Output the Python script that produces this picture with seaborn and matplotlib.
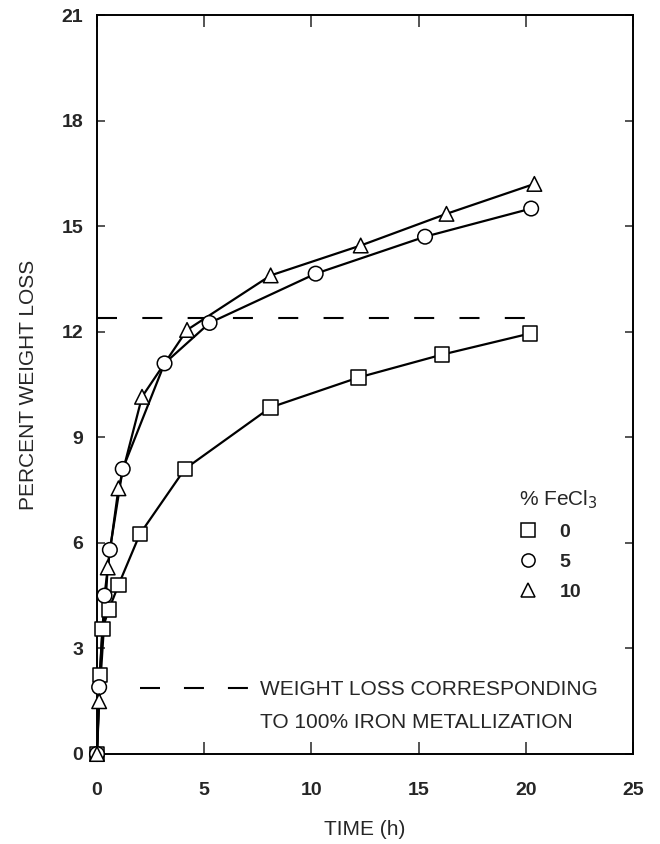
import numpy as np
import pandas as pd
import matplotlib
matplotlib.use("Agg")
import matplotlib.pyplot as plt
import seaborn as sns
from matplotlib.lines import Line2D

# --- data ---
fecl3_levels = ["0", "5", "10"]
time_0 = [0, 0.13, 0.25, 0.55, 1.0, 2.0, 4.1, 8.1, 12.2, 16.1, 20.2]
loss_0 = [0, 2.25, 3.55, 4.1, 4.8, 6.25, 8.1, 9.85, 10.7, 11.35, 11.95]
time_5 = [0, 0.1, 0.35, 0.6, 1.2, 3.15, 5.25, 10.2, 15.3, 20.25]
loss_5 = [0, 1.9, 4.5, 5.8, 8.1, 11.1, 12.25, 13.65, 14.7, 15.5]
time_10 = [0, 0.1, 0.5, 1.0, 2.1, 4.2, 8.1, 12.3, 16.3, 20.4]
loss_10 = [0, 1.5, 5.3, 7.55, 10.15, 12.05, 13.6, 14.45, 15.35, 16.2]

metal_loss = 12.4          # 100% iron metallization
metal_span = [0, 20]

x_ticks = [0, 5, 10, 15, 20, 25]
y_ticks = [0, 3, 6, 9, 12, 15, 18, 21]

df = pd.concat([
    pd.DataFrame({"time": time_0, "loss": loss_0, "fecl3": "0"}),
    pd.DataFrame({"time": time_5, "loss": loss_5, "fecl3": "5"}),
    pd.DataFrame({"time": time_10, "loss": loss_10, "fecl3": "10"}),
], ignore_index=True)

sns.set_theme(style="ticks")
plt.rcParams["font.family"] = ["Liberation Sans", "DejaVu Sans"]
plt.rcParams["lines.scale_dashes"] = True

fig = plt.figure(figsize=(6.6, 8.44), dpi=100)
ax = fig.add_axes([97 / 660, 1 - 754 / 844, 536 / 660, 739 / 844])

marker_map = {"0": "s", "5": "o", "10": "^"}
dash_style = (0, (9.6, 12.15))

sns.lineplot(data=df, x="time", y="loss", hue="fecl3", hue_order=fecl3_levels,
             palette=["black"] * 3, estimator=None, sort=False, lw=1.6,
             legend=False, ax=ax)
sns.scatterplot(data=df, x="time", y="loss", style="fecl3", style_order=fecl3_levels,
                markers=marker_map, color="white", edgecolor="black", linewidth=1.1,
                s=110, legend=False, ax=ax, zorder=3, clip_on=False)

ax.hlines(metal_loss, metal_span[0], metal_span[1], colors="black", lw=1.5,
          linestyles=dash_style)

ax.set_xlim(0, 25)
ax.set_ylim(0, 21)
ax.set_xticks(x_ticks)
ax.set_yticks(y_ticks)
ax.tick_params(axis="x", direction="in", top=True, length=8.6, width=1.1,
               pad=20, labelsize=14)
ax.tick_params(axis="y", direction="in", right=True, length=5.8, width=1.1,
               pad=10, labelsize=14)
for lab in ax.get_xticklabels() + ax.get_yticklabels():
    lab.set_fontweight("bold")
for sp in ax.spines.values():
    sp.set_linewidth(1.4)
    sp.set_color("black")

ax.set_xlabel("TIME (h)", fontsize=15, labelpad=15)
ax.set_ylabel("PERCENT WEIGHT LOSS", fontsize=15, labelpad=17)

# legend for the FeCl3 series
handles = [Line2D([], [], ls="none", marker=marker_map[k], ms=9.5, mfc="white",
                  mec="black", mew=1.1) for k in fecl3_levels]
leg = ax.legend(handles, fecl3_levels, title="% FeCl$_3$", loc="center",
                bbox_to_anchor=(0.860, 0.283), frameon=False, fontsize=14,
                title_fontsize=15, handlelength=1.0, handletextpad=1.1,
                labelspacing=0.63, borderpad=0)
leg._legend_box.align = "left"
for t in leg.get_texts():
    t.set_fontweight("bold")
ax.add_artist(leg)

# key for the dashed reference line
ref_handles = [Line2D([], [], color="black", lw=1.5, ls=(0, (9.6, 11.5))),
               Line2D([], [], ls="none")]
ax.legend(ref_handles, ["WEIGHT LOSS CORRESPONDING", "TO 100% IRON METALLIZATION"],
          loc="center left", bbox_to_anchor=(0.080, 0.065), frameon=False,
          fontsize=15, handlelength=5.3, handletextpad=0.48, labelspacing=0.65,
          borderpad=0, borderaxespad=0)

fig.savefig("out.png", dpi=100)
